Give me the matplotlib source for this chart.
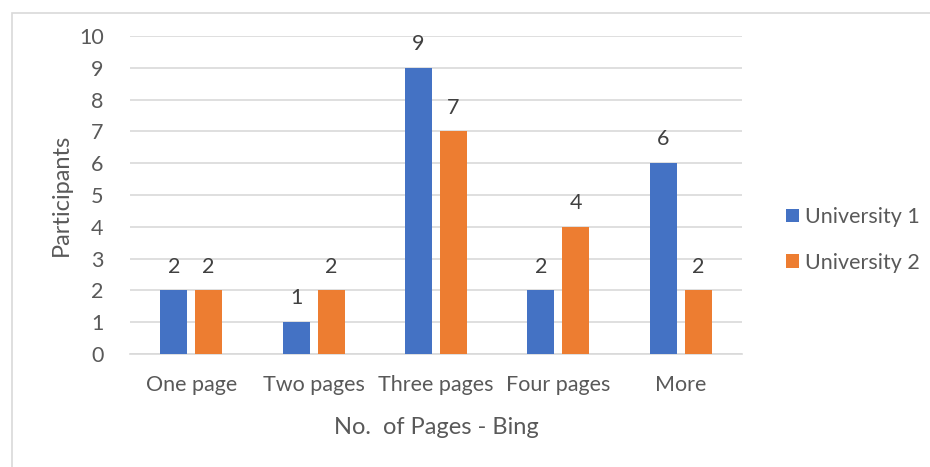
import matplotlib
matplotlib.use("Agg")
import matplotlib.pyplot as plt
import numpy as np
from matplotlib.patches import Rectangle

categories = ["One page", "Two pages", "Three pages", "Four pages", "More"]
uni1 = [2, 1, 9, 2, 6]
uni2 = [2, 2, 7, 4, 2]
series_names = ["University 1", "University 2"]
yticks = list(range(0, 11))

plt.rcParams['font.family'] = ['Lato', 'DejaVu Sans']
txt = '#595959'
blue = '#4472C4'
orange = '#ED7D31'
fs = 15.5

fig = plt.figure(figsize=(9.3, 4.67), dpi=100)
fig.patches.append(Rectangle((12/930, -0.1), 1.0, 1 - 13/467 + 0.1, transform=fig.transFigure,
                             fill=False, edgecolor='#D9D9D9', linewidth=1.2))
ax = fig.add_axes([130/930, 1 - 354/467, 612/930, 318/467])

x = np.arange(len(categories))
w = 0.22
gap = 0.065
off = (w + gap) / 2
b1 = ax.bar(x - off, uni1, w, color=blue, label=series_names[0], zorder=3)
b2 = ax.bar(x + off, uni2, w, color=orange, label=series_names[1], zorder=3)
for bars in (b1, b2):
    for r in bars:
        ax.annotate(f"{int(r.get_height())}", (r.get_x() + r.get_width()/2, r.get_height()),
                    xytext=(0, 10), textcoords='offset points', ha='center', va='bottom',
                    fontsize=fs, color='#404040')

ax.set_xlim(-0.5, len(categories) - 0.5)
ax.set_ylim(0, 10)
ax.set_yticks(yticks)
ax.yaxis.grid(True, color='#D9D9D9', linewidth=1.2, zorder=0)
for s in ['top', 'right', 'left']:
    ax.spines[s].set_visible(False)
ax.spines['bottom'].set_color('#D9D9D9')
ax.spines['bottom'].set_linewidth(1.2)
ax.tick_params(axis='both', length=0, labelsize=fs, labelcolor=txt)
ax.tick_params(axis='y', pad=19)
ax.tick_params(axis='x', pad=15)
ax.set_xticks(x)
ax.set_xticklabels(categories)
ax.set_ylabel("Participants", fontsize=17, color=txt, labelpad=5)
ax.set_xlabel("No.  of Pages - Bing", fontsize=17, color=txt, labelpad=16)

leg = fig.legend(handles=[b1, b2], loc='center left', bbox_to_anchor=(786/930, 1 - 240/467),
                 frameon=False, fontsize=fs, handlelength=0.6, handleheight=0.6,
                 handletextpad=0.3, labelspacing=1.2, borderaxespad=0, borderpad=0)
for t in leg.get_texts():
    t.set_color(txt)

fig.savefig("out.png", dpi=100)
